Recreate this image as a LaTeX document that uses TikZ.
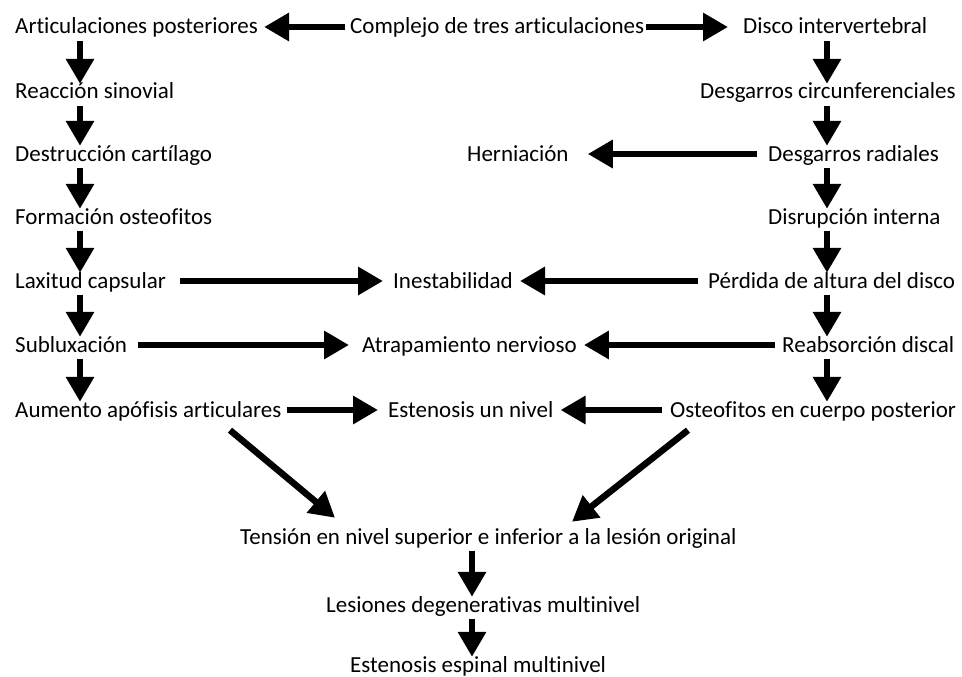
\documentclass[tikz,border=0pt]{standalone}
\usepackage{fontspec}
\setmainfont{Carlito}[Ligatures=NoCommon]
\usetikzlibrary{arrows.meta,calc}
\tikzset{
  lbl/.style={anchor=west,inner sep=0pt,text height=17pt,text depth=3pt,font=\fontsize{23}{27}\selectfont},
  arr/.style={line width=6.5pt,-{Triangle[width=27pt,length=25pt]}}
}
\newcommand\varrow[3]{\draw[arr] ($(#1 |- #2.south)+(0,-4pt)$) -- ($(#1 |- #3.north)+(0,-2pt)$);}
\begin{document}
\begin{tikzpicture}[x=1pt,y=-1pt]
\useasboundingbox (0,0) rectangle (962,677);
\coordinate (lx) at (80,0);
\coordinate (rx) at (827,0);
\coordinate (mx) at (472,0);
% left column
\node[lbl] (art) at (15,27) {Articulaciones posteriores};
\node[lbl] (rea) at (15,92) {Reacción sinovial};
\node[lbl] (des) at (15,154) {Destrucción cartílago};
\node[lbl] (for) at (15,217) {Formación osteofitos};
\node[lbl] (lax) at (15,281) {Laxitud capsular};
\node[lbl] (sub) at (15,345) {Subluxación};
\node[lbl] (aum) at (15,410) {Aumento apófisis articulares};
% top middle
\node[lbl] (com) at (350,27) {Complejo de tres articulaciones};
% right column
\node[lbl] (dis) at (743,27) {Disco intervertebral};
\node[lbl] (dci) at (700,92) {Desgarros circunferenciales};
\node[lbl] (dra) at (768,154) {Desgarros radiales};
\node[lbl] (dri) at (768,217) {Disrupción interna};
\node[lbl] (per) at (708,281) {Pérdida de altura del disco};
\node[lbl] (reb) at (782,345) {Reabsorción discal};
\node[lbl] (ost) at (670,410) {Osteofitos en cuerpo posterior};
% middle column
\node[lbl] (her) at (467,154) {Herniación};
\node[lbl] (ine) at (393,281) {Inestabilidad};
\node[lbl] (atr) at (362,345) {Atrapamiento nervioso};
\node[lbl] (eun) at (388,410) {Estenosis un nivel};
% bottom
\node[lbl] (ten) at (240,537) {Tensión en nivel superior e inferior a la lesión original};
\node[lbl] (les) at (326,605) {Lesiones degenerativas multinivel};
\node[lbl] (esp) at (350,665) {Estenosis espinal multinivel};
% horizontal arrows
\draw[arr] ([xshift=-5pt]com.west) -- ([xshift=6pt]art.east);
\draw[arr] ([xshift=2pt]com.east) -- ([xshift=-15pt]dis.west);
\draw[arr] ([xshift=-11pt]dra.west) -- ([xshift=19pt]her.east);
\draw[arr] ([xshift=14pt]lax.east) -- ([xshift=-10pt]ine.west);
\draw[arr] ([xshift=-10pt]per.west) -- ([xshift=7pt]ine.east);
\draw[arr] ([xshift=11pt]sub.east) -- ([xshift=-13pt]atr.west);
\draw[arr] ([xshift=-7pt]reb.west) -- ([xshift=7pt]atr.east);
\draw[arr] ([xshift=5pt]aum.east) -- ([xshift=-10pt]eun.west);
\draw[arr] ([xshift=-8pt]ost.west) -- ([xshift=7pt]eun.east);
% vertical arrows
\varrow{lx}{art}{rea}
\varrow{lx}{rea}{des}
\varrow{lx}{des}{for}
\varrow{lx}{for}{lax}
\varrow{lx}{lax}{sub}
\varrow{lx}{sub}{aum}
\varrow{rx}{dis}{dci}
\varrow{rx}{dci}{dra}
\varrow{rx}{dra}{dri}
\varrow{rx}{dri}{per}
\varrow{rx}{per}{reb}
\varrow{rx}{reb}{ost}
\varrow{mx}{ten}{les}
\varrow{mx}{les}{esp}
% diagonals
\draw[arr] ([shift={(215pt,-10pt)}]aum.south west) -- ([shift={(95pt,9pt)}]ten.north west);
\draw[arr] ([shift={(18pt,-10pt)}]ost.south west) -- ([shift={(332pt,5pt)}]ten.north west);
\end{tikzpicture}
\end{document}
